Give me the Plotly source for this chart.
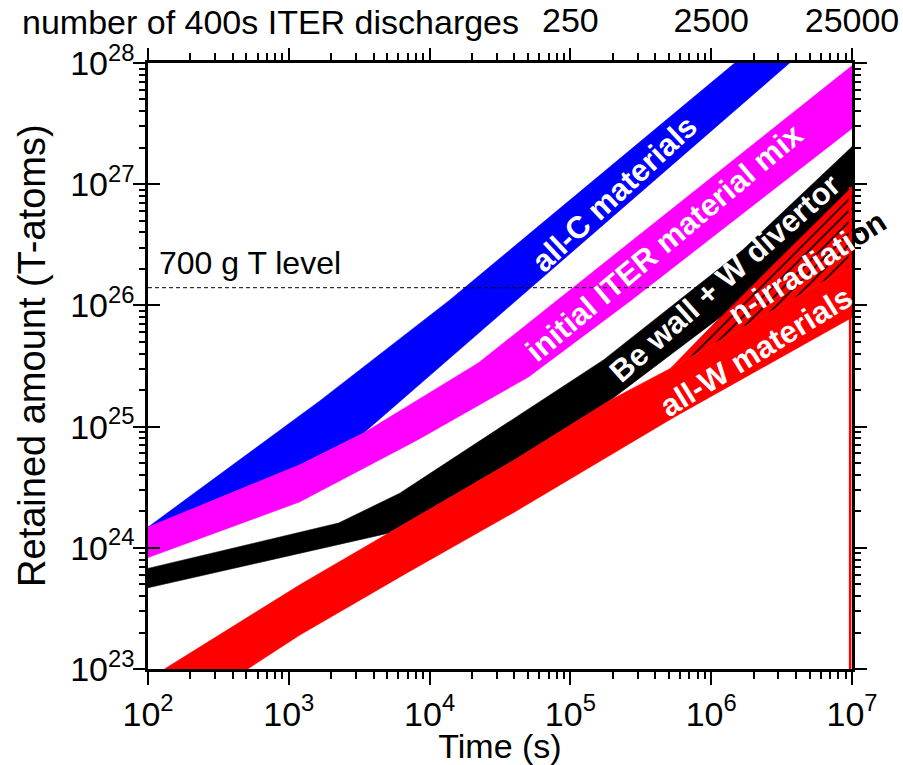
import plotly.graph_objects as go

# ---------------- data ----------------
t_allC_upper = [1.0e2, 1.65e3, 1.38e4, 1.47e6]
n_allC_upper = [1.48e24, 1.62e25, 1.10e26, 1.0e28]
t_allC_lower = [1.0e2, 1.19e3, 3.4e3, 4.2e4, 3.6e6]
n_allC_lower = [1.48e24, 4.82e24, 8.85e24, 1.11e26, 1.0e28]

t_mix_upper = [1.0e2, 1.19e3, 3.4e3, 2.22e4, 1.0e7]
n_mix_upper = [1.48e24, 4.82e24, 8.85e24, 3.35e25, 9.5e27]
t_mix_lower = [1.0e2, 1.19e3, 8.2e3, 5.04e4, 2.72e5, 1.0e7]
n_mix_lower = [8.3e23, 2.39e24, 7.76e24, 2.57e25, 1.11e26, 2.88e27]

t_BeW_upper = [1.0e2, 2.26e3, 6.14e3, 2.94e4, 1.72e5, 1.67e6, 1.0e7]
n_BeW_upper = [6.76e23, 1.6e24, 2.82e24, 9.33e24, 3.55e25, 2.86e26, 2.04e27]
t_BeW_lower = [1.0e2, 5.09e3, 3.94e4, 1.93e5, 1.16e6, 1.0e7]
n_BeW_lower = [4.68e23, 1.32e24, 5.25e24, 1.66e25, 8.0e25, 6.3e26]

t_allW_upper = [1.31e2, 1.19e3, 5.09e3, 3.94e4, 1.93e5, 5.13e5, 1.0e7]
n_allW_upper = [1.0e23, 4.93e23, 1.32e24, 5.25e24, 1.66e25, 3.02e25, 2.14e26]
t_allW_lower = [5.1e2, 1.19e3, 6.84e3, 3.94e4, 5.48e5, 1.0e7]
n_allW_lower = [1.0e23, 1.9e23, 6.17e23, 1.95e24, 1.2e25, 7.94e25]

t_nirr_upper = [5.13e5, 1.16e6, 1.0e7]
n_nirr_upper = [3.02e25, 8.0e25, 9.5e26]
t_nirr_lower = [5.13e5, 1.0e7]
n_nirr_lower = [3.02e25, 2.14e26]

t_end_line = [9.7e6, 9.7e6]
n_end_line = [1.0e23, 9.5e26]

t_700g = [1.0e2, 1.0e6]
n_700g = [1.4e26, 1.4e26]

x_tickvals = [1e2, 1e3, 1e4, 1e5, 1e6, 1e7]
x_ticktext = ["10<sup>2</sup>", "10<sup>3</sup>", "10<sup>4</sup>",
              "10<sup>5</sup>", "10<sup>6</sup>", "10<sup>7</sup>"]
top_ticktext = ["", "", "", "250", "2500", "25000"]
y_tickvals = [1e23, 1e24, 1e25, 1e26, 1e27, 1e28]
y_ticktext = ["10<sup>23</sup>", "10<sup>24</sup>", "10<sup>25</sup>",
              "10<sup>26</sup>", "10<sup>27</sup>", "10<sup>28</sup>"]
x_minor = [k * 10.0 ** e for e in range(2, 7) for k in range(2, 10)]
y_minor = [k * 10.0 ** e for e in range(23, 28) for k in range(2, 10)]

FONT = "Liberation Sans, Arial, sans-serif"

fig = go.Figure()


def band(tu, nu, tl, nl, color, **kw):
    fig.add_trace(go.Scatter(
        x=list(tu) + list(tl)[::-1], y=list(nu) + list(nl)[::-1],
        mode="lines", fill="toself", fillcolor=color,
        line=dict(color=color, width=0.6), hoverinfo="skip",
        showlegend=False, **kw))


band(t_allC_upper, n_allC_upper, t_allC_lower, n_allC_lower, "#0000ff")
band(t_mix_upper, n_mix_upper, t_mix_lower, n_mix_lower, "#ff00ff")
band(t_BeW_upper, n_BeW_upper, t_BeW_lower, n_BeW_lower, "#000000")
band(t_allW_upper, n_allW_upper, t_allW_lower, n_allW_lower, "#ff0000")
band(t_nirr_upper, n_nirr_upper, t_nirr_lower, n_nirr_lower, "#ff0000",
     fillpattern=dict(shape="/", fgcolor="black", fgopacity=1,
                      bgcolor="#ff0000", size=8, solidity=0.2))

fig.add_trace(go.Scatter(x=t_end_line, y=n_end_line, mode="lines",
                         line=dict(color="#ff0000", width=2.5),
                         hoverinfo="skip", showlegend=False))
fig.add_trace(go.Scatter(x=t_700g, y=n_700g, mode="lines",
                         line=dict(color="black", width=1, dash="4px,3px"),
                         hoverinfo="skip", showlegend=False))
# dummy traces so overlay axes are drawn
fig.add_trace(go.Scatter(x=[1e3], y=[1e25], xaxis="x2", yaxis="y2",
                         mode="markers", marker=dict(opacity=0),
                         hoverinfo="skip", showlegend=False))
fig.add_trace(go.Scatter(x=[1e3], y=[1e25], xaxis="x", yaxis="y3",
                         mode="markers", marker=dict(opacity=0),
                         hoverinfo="skip", showlegend=False))

axcommon = dict(type="log", showgrid=False, zeroline=False, showline=True,
                linecolor="black", linewidth=2.5, tickcolor="black",
                tickwidth=2, ticks="outside", automargin=False)

fig.update_layout(
    width=903, height=765,
    margin=dict(l=148, r=51, t=63, b=96, autoexpand=False),
    paper_bgcolor="white", plot_bgcolor="white",
    font=dict(family=FONT, color="black", size=30),
    xaxis=dict(**axcommon, range=[2, 7], ticklen=13,
               tickmode="array", tickvals=x_tickvals, ticktext=x_ticktext,
               tickfont=dict(size=34),
               minor=dict(ticks="outside", ticklen=7, tickwidth=2,
                          tickcolor="black", tickmode="array",
                          tickvals=x_minor),
               title=dict(text="Time (s)", font=dict(size=34), standoff=0)),
    xaxis2=dict(**axcommon, range=[2, 7], overlaying="x", side="top",
                anchor="y", ticklen=12,
                tickmode="array", tickvals=x_tickvals, ticktext=top_ticktext,
                tickfont=dict(size=34), ticklabelstandoff=3,
                minor=dict(ticks="outside", ticklen=7, tickwidth=2,
                           tickcolor="black", tickmode="array",
                           tickvals=x_minor)),
    yaxis=dict(**axcommon, range=[23, 28], ticklen=12,
               tickmode="array", tickvals=y_tickvals, ticktext=y_ticktext,
               tickfont=dict(size=34), ticklabelstandoff=-8,
               minor=dict(ticks="outside", ticklen=6, tickwidth=2,
                          tickcolor="black", tickmode="array",
                          tickvals=y_minor)),
    yaxis2=dict(**axcommon, range=[23, 28], overlaying="y", side="right",
                anchor="x", ticklen=12, showticklabels=False,
                tickmode="array", tickvals=y_tickvals,
                minor=dict(ticks="outside", ticklen=6, tickwidth=2,
                           tickcolor="black", tickmode="array",
                           tickvals=y_minor)),
    yaxis3=dict(type="log", range=[23, 28], overlaying="y", side="left",
                anchor="x", showgrid=False, zeroline=False, showline=False,
                automargin=False,
                ticks="inside", ticklen=12, tickwidth=2, tickcolor="black",
                tickmode="array", tickvals=y_tickvals, showticklabels=False),
)

ann = []
ann.append(dict(xref="paper", yref="paper", x=-0.182, y=1.068,
                xanchor="left", yanchor="middle", showarrow=False,
                text="number of 400s ITER discharges",
                font=dict(size=34, family=FONT, color="black")))
ann.append(dict(xref="paper", yref="paper", x=-0.165, y=0.518,
                xanchor="center", yanchor="middle", showarrow=False,
                textangle=-90, text="Retained amount (T-atoms)",
                font=dict(size=38, family=FONT, color="black")))
ann.append(dict(x=2.067, y=26.35, xanchor="left", yanchor="middle",
                showarrow=False, text="700 g T level",
                font=dict(size=32, family=FONT, color="black")))
labels = [
    ("all-C materials", 5.313, 26.927, -43),
    ("initial ITER material mix", 5.668, 26.523, -40),
    ("Be wall + W divertor", 6.095, 26.226, -41.5),
    ("n-irradiati<span style='color:black'>on</span>", 6.684, 26.309, -33),
    ("all-W materials", 6.322, 25.616, -31.6),
]
for txt, lx, ly, ang in labels:
    ann.append(dict(x=lx, y=ly, xanchor="center", yanchor="middle",
                    showarrow=False, text="<b>" + txt + "</b>",
                    textangle=ang,
                    font=dict(size=31, family=FONT, color="white")))
fig.update_layout(annotations=ann)

fig.write_html("out.html")
